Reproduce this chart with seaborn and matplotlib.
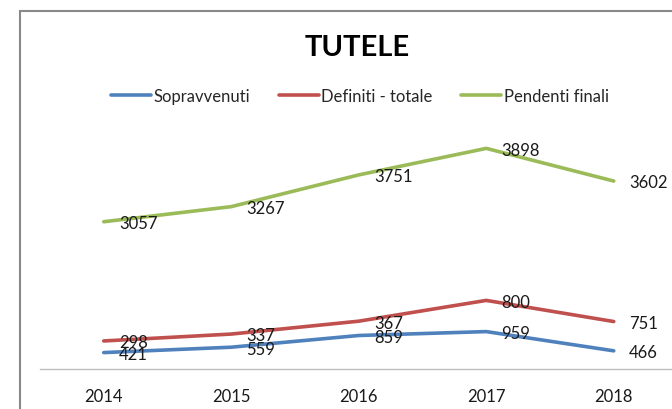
import numpy as np
import matplotlib.pyplot as plt
import seaborn as sns
from matplotlib.patches import Rectangle

anni = ['2014', '2015', '2016', '2017', '2018']
sopravvenuti = [421, 559, 859, 959, 466]
definiti = [298, 337, 367, 800, 751]
pendenti = [3057, 3267, 3751, 3898, 3602]

nomi = ['Sopravvenuti', 'Definiti - totale', 'Pendenti finali']
colori = ['#4F81BD', '#C0504D', '#9BBB59']

sns.set_style('white')
plt.rcParams['font.family'] = ['Lato', 'DejaVu Sans']

fig = plt.figure(figsize=(6.72, 4.10), dpi=100)
ax = fig.add_axes([40 / 672, 40 / 410, 637.5 / 672, 273 / 410])

# grafico a linee impilate (come in Excel)
serie = [sopravvenuti, definiti, pendenti]
cumulato = np.cumsum(np.array(serie), axis=0)
x = np.arange(len(anni))

for nome, valori, cum, col in zip(nomi, serie, cumulato, colori):
    sns.lineplot(x=x, y=cum, ax=ax, color=col, linewidth=2.6, label=nome)
    for xi, yi, v in zip(x, cum, valori):
        ax.annotate(str(v), (xi, yi), xytext=(11, -1), textcoords='offset points',
                    ha='left', va='center', fontsize=12, color='#1a1a1a')

ax.set_xlim(-0.5, 4.5)
ax.set_ylim(0, 7000)
ax.set_xticks(x)
ax.set_xticklabels(anni, fontsize=12, color='#1a1a1a')
ax.tick_params(axis='x', length=0, pad=14)
ax.set_yticks([])
for s in ['left', 'right', 'top']:
    ax.spines[s].set_visible(False)
ax.spines['bottom'].set_color('#BDBDBD')
ax.spines['bottom'].set_linewidth(1.0)
ax.patch.set_alpha(0)

handles, labels = ax.get_legend_handles_labels()
ax.get_legend().remove()
fig.legend(handles, labels, loc='center', bbox_to_anchor=(360 / 672, 1 - 97 / 410),
           ncol=3, frameon=False, fontsize=12, handlelength=2.4,
           handletextpad=0.15, columnspacing=1.7)

fig.text(357 / 672, 1 - 48 / 410, 'TUTELE', ha='center', va='center',
         fontsize=21, fontweight='bold', color='black')

fig.patches.append(Rectangle((20 / 672, -0.1), 1.2, 1 - 12 / 410 + 0.1,
                             transform=fig.transFigure, fill=False,
                             edgecolor='#898989', linewidth=1.5))

fig.savefig('out.png', dpi=100)
